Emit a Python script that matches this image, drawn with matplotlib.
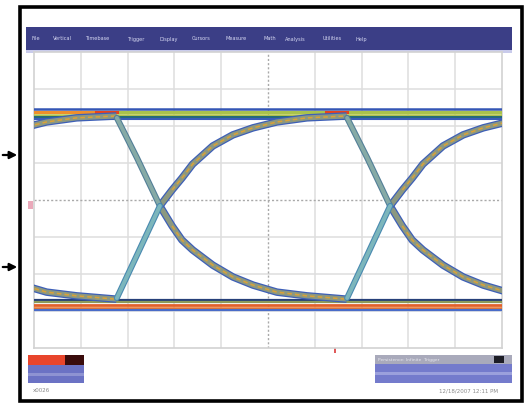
import matplotlib
matplotlib.use("Agg")
import matplotlib.pyplot as plt
from matplotlib.patches import Rectangle

# eye diagram (units = grid divisions, 10 x 8)
edge_starts = [-3.15, 1.77, 6.69]
edge_t = [0.0, 0.43, 0.92, 1.18, 1.39, 1.62, 2.05, 2.48, 2.91, 3.42, 4.06, 4.91]
fall_level = [2.22, 1.14, -0.16, -0.70, -1.08, -1.35, -1.76, -2.08, -2.30, -2.49, -2.59, -2.68]
rise_level = [-2.65, -1.49, -0.16, 0.27, 0.59, 0.97, 1.46, 1.76, 1.95, 2.11, 2.22, 2.27]
high_level = 2.32
low_level = -2.84

menu_items = ["File", "Vertical", "Timebase", "Trigger", "Display", "Cursors",
              "Measure", "Math", "Analysis", "Utilities", "Help"]
status_text = "Persistence: Infinite  Trigger"
date_text = "12/18/2007 12:11 PM"
scale_text = "x0026"

W, H = 530, 404
fig = plt.figure(figsize=(W / 100, H / 100), dpi=100)
fig.patch.set_facecolor("white")

# pixel-space layer for the window chrome
bg = fig.add_axes([0, 0, 1, 1])
bg.set_xlim(0, W)
bg.set_ylim(H, 0)
bg.axis("off")

bg.add_patch(Rectangle((19.5, 6.5), 502, 394, fill=False, ec="black", lw=2.6, zorder=5))
bg.add_patch(Rectangle((26, 27), 486, 23, fc="#3b3e86", ec="none"))
bg.add_patch(Rectangle((26, 50), 486, 3, fc="#c9cbeb", ec="none"))
menu_x = [32, 53, 85, 127, 160, 192, 225, 263, 285, 323, 355]
for mx, item in zip(menu_x, menu_items):
    bg.text(mx, 39, item, color="#d6d8f2", fontsize=3.6, va="center", ha="left")

# arrows pointing at the two levels
for ay in [155, 267]:
    bg.annotate("", xy=(20, ay), xytext=(0, ay),
                arrowprops=dict(arrowstyle="-|>", color="black", lw=1.6, mutation_scale=11))

# channel + trigger markers
bg.add_patch(Rectangle((28, 201), 5, 8, fc="#eaa9ba", ec="none"))
bg.add_patch(Rectangle((334, 348), 2, 5, fc="#e05a5a", ec="none"))

# lower left info box
bg.add_patch(Rectangle((28, 355), 37, 10, fc="#e8452c", ec="none"))
bg.add_patch(Rectangle((65, 355), 19, 10, fc="#3a0c0c", ec="none"))
bg.add_patch(Rectangle((28, 365), 56, 18, fc="#6b72c4", ec="none"))
bg.add_patch(Rectangle((28, 373), 56, 3, fc="#8e93d2", ec="none"))
bg.text(33, 390, scale_text, color="#8a8a8a", fontsize=4, va="center")

# lower right status box
bg.add_patch(Rectangle((375, 355), 137, 9, fc="#a9aabb", ec="none"))
bg.add_patch(Rectangle((494, 356), 10, 7, fc="#1c1c24", ec="none"))
bg.add_patch(Rectangle((375, 364), 137, 19, fc="#747bcc", ec="none"))
bg.add_patch(Rectangle((375, 372), 137, 3, fc="#9ba0dc", ec="none"))
bg.text(378, 359.5, status_text, color="#e8e8f0", fontsize=3.2, va="center")
bg.text(498, 391, date_text, color="#8a8a8a", fontsize=4, va="center", ha="right")

# scope graticule
ax = fig.add_axes([34 / W, (H - 348) / H, 468 / W, 296 / H])
ax.set_xlim(0, 10)
ax.set_ylim(-4, 4)
ax.set_facecolor("white")
for s in ax.spines.values():
    s.set_color("#d2d2d2")
    s.set_linewidth(1.2)
ax.set_xticks([])
ax.set_yticks([])
for gx in range(1, 10):
    if gx != 5:
        ax.axvline(gx, color="#dedede", lw=1.1, zorder=0)
for gy in range(-3, 4):
    if gy != 0:
        ax.axhline(gy, color="#dedede", lw=1.1, zorder=0)
ax.axvline(5, color="#a9a9a9", lw=1.0, ls=(0, (1.5, 1.5)), zorder=0)
ax.axhline(0, color="#a9a9a9", lw=1.0, ls=(0, (1.5, 1.5)), zorder=0)

px = 1 / 37.0  # one screen pixel in vertical divisions

# high rail, layered like a colour-graded persistence band
for off, col, lw in [(-5.5, "#3456b5", 1.8), (-2.5, "#ee8f2c", 2.2), (0.5, "#b4c64a", 1.8),
                     (3.0, "#256a7a", 1.5), (5.2, "#3a5cb8", 1.5)]:
    ax.axhline(high_level - off * px, color=col, lw=lw, zorder=3)
for s0, s1 in zip(edge_starts[1:], edge_starts[2:] + [10]):
    ax.plot([s0, s1], [high_level + 2.5 * px] * 2, color="#a9c24c", lw=2.2, zorder=3)
for s in edge_starts[1:]:
    ax.plot([s - 0.45, s], [high_level + 2.5 * px] * 2, color="#e8421c", lw=2.2, zorder=3)

# low rail
for off, col, lw in [(-5.5, "#26407a", 1.6), (-3.0, "#8c9a5a", 1.6), (0.0, "#e2602a", 2.0),
                     (2.5, "#e8742c", 1.8), (5.2, "#4a6cc8", 1.6)]:
    ax.axhline(low_level - off * px, color=col, lw=lw, zorder=3)

# transitions: fast straight edge into an exponential tail
for s in edge_starts:
    x = [s + t for t in edge_t]
    for lv in (fall_level, rise_level):
        ax.plot(x[2:], lv[2:], color="#3d5fb8", lw=5.4, solid_capstyle="butt", zorder=4)
        ax.plot(x[2:], lv[2:], color="#8c9880", lw=3.6, solid_capstyle="butt", zorder=4)
        ax.plot(x[3:], lv[3:], color="#dca236", lw=1.1, ls=(0, (3, 2)), zorder=4)
    ax.plot(x[:3], fall_level[:3], color="#537f98", lw=4.4, solid_capstyle="round", zorder=5)
    ax.plot(x[:3], fall_level[:3], color="#86aaa6", lw=2.8, solid_capstyle="round", zorder=5)
    ax.plot(x[:3], rise_level[:3], color="#4a8ab0", lw=4.4, solid_capstyle="round", zorder=5)
    ax.plot(x[:3], rise_level[:3], color="#7cb6bc", lw=2.8, solid_capstyle="round", zorder=5)

fig.savefig("out.png", dpi=100, facecolor="white")
